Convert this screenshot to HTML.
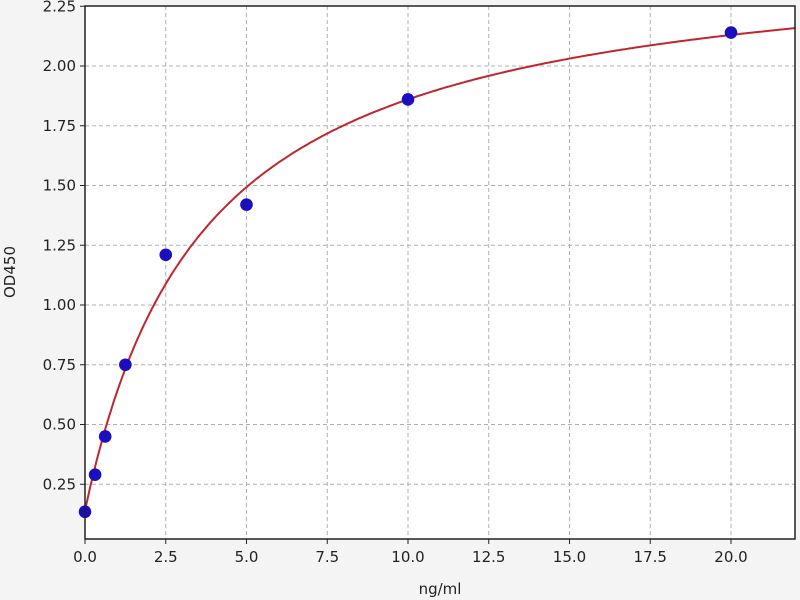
<!DOCTYPE html>
<html><head><meta charset="utf-8"><style>
body{margin:0;background:#f4f4f4;}
svg{display:block;font-family:"DejaVu Sans","Liberation Sans",sans-serif;}
</style></head><body>
<svg id="s" width="800" height="600" xmlns="http://www.w3.org/2000/svg">
<rect x="0" y="0" width="800" height="600" fill="#f4f4f4"/>
<rect x="85" y="6" width="710" height="533" fill="#fff"/>
<g id="grid" stroke="#b0b0b0" stroke-dasharray="4,3" stroke-width="1"></g>
<path id="curve" fill="none" stroke="#c0272d" stroke-width="2"/>
<g id="pts" fill="#1a0fbf"></g>
<rect x="85" y="6" width="710" height="533" fill="none" stroke="#222" stroke-width="1.5"/>
<g id="ticks" stroke="#222" stroke-width="1"></g>
<g id="lab" font-size="15" fill="#222"></g>
<text x="440" y="594" font-size="15" text-anchor="middle" fill="#222">ng/ml</text>
<text x="0" y="0" font-size="15" text-anchor="middle" fill="#222" transform="translate(15,272) rotate(-90)">OD450</text>
</svg>
<script>
const X=x=>85+32.3*x, Y=y=>544-239*y, ns="http://www.w3.org/2000/svg";
function el(p,t,a,txt){const e=document.createElementNS(ns,t);for(const k in a)e.setAttribute(k,a[k]);if(txt)e.textContent=txt;document.getElementById(p).appendChild(e);}
for(let i=0;i<=8;i++){const v=i*2.5,x=X(v);
 if(i>0)el("grid","line",{x1:x,x2:x,y1:6,y2:539});
 el("ticks","line",{x1:x,x2:x,y1:539,y2:544});
 el("lab","text",{x:x,y:562,"text-anchor":"middle"},v.toFixed(1));}
for(let i=1;i<=9;i++){const v=i*0.25,y=Y(v);
 if(i<9)el("grid","line",{x1:85,x2:795,y1:y,y2:y});
 el("ticks","line",{x1:80,x2:85,y1:y,y2:y});
 el("lab","text",{x:76,y:y+5,"text-anchor":"end"},v.toFixed(2));}
let d="";for(let i=0;i<=300;i++){const x=22*i/300;const y=0.14+2.36*x/(3.72+x);d+=(i?"L":"M")+X(x).toFixed(1)+","+Y(y).toFixed(1);}
document.getElementById("curve").setAttribute("d",d);
[[0,0.135],[0.3125,0.29],[0.625,0.45],[1.25,0.75],[2.5,1.21],[5,1.42],[10,1.86],[20,2.14]].forEach(p=>el("pts","circle",{cx:X(p[0]),cy:Y(p[1]),r:6.3}));
</script>
</body></html>
